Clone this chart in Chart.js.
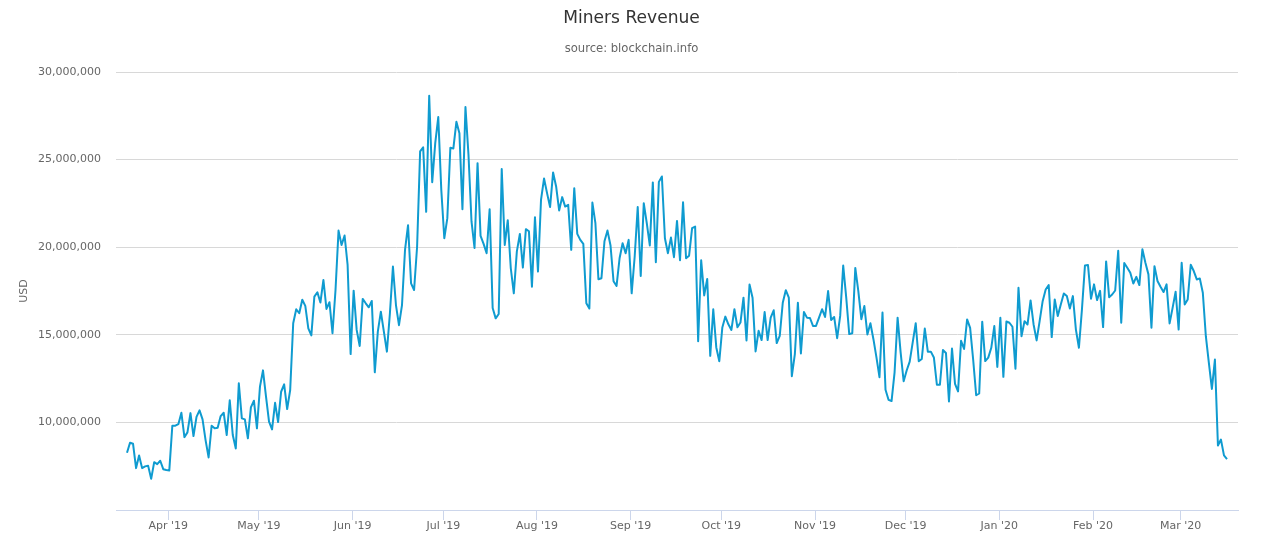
<!DOCTYPE html>
<html>
<head>
<meta charset="utf-8">
<title>Miners Revenue</title>
<script src="https://cdn.jsdelivr.net/npm/chart.js@4"></script>
<style>
    html, body { margin: 0; padding: 0; background: #fff; overflow: hidden; }
    canvas { display: block; }
</style>
</head>
<body>
<canvas id="chart" width="1263" height="550"></canvas>
<script>
// daily revenue in millions of USD, first point is 18 Mar 2019
const revenue = [
    8.27, 8.84, 8.78, 7.39, 8.11, 7.39, 7.49, 7.52, 6.78, 7.73, 7.62, 7.81, 7.33, 7.28, 7.26,
    9.81, 9.81, 9.90, 10.55, 9.16, 9.43, 10.53, 9.22, 10.32, 10.69, 10.17, 8.99, 8.00, 9.81, 9.66,
    9.70, 10.36, 10.55, 9.28, 11.26, 9.28, 8.51, 12.23, 10.23, 10.17, 9.09, 10.86, 11.24, 9.66, 12.04,
    12.97, 11.47, 10.04, 9.60, 11.12, 10.02, 11.75, 12.17, 10.76, 11.85, 15.66, 16.46, 16.23, 17.00, 16.65,
    15.37, 14.97, 17.18, 17.43, 16.84, 18.13, 16.48, 16.86, 15.09, 17.56, 20.95, 20.13, 20.67, 18.99, 13.90,
    17.52, 15.28, 14.36, 17.05, 16.80, 16.57, 16.93, 12.86, 15.18, 16.32, 15.18, 14.04, 16.23, 18.90, 16.70,
    15.55, 16.70, 19.85, 21.26, 17.94, 17.56, 20.04, 25.47, 25.70, 22.02, 28.65, 23.71, 25.94, 27.43, 23.28,
    20.51, 21.66, 25.68, 25.64, 27.16, 26.51, 22.17, 28.00, 25.28, 21.47, 19.96, 24.80, 20.65, 20.19, 19.66,
    22.17, 16.53, 15.94, 16.19, 24.46, 20.13, 21.54, 18.80, 17.37, 19.75, 20.76, 18.84, 21.03, 20.91, 17.75,
    21.71, 18.61, 22.70, 23.92, 23.09, 22.29, 24.27, 23.47, 22.10, 22.86, 22.32, 22.42, 19.85, 23.37, 20.76,
    20.42, 20.19, 16.80, 16.50, 22.55, 21.37, 18.17, 18.23, 20.34, 20.95, 20.10, 18.06, 17.79, 19.37, 20.23,
    19.66, 20.42, 17.37, 19.47, 22.29, 18.36, 22.51, 21.37, 20.10, 23.70, 19.14, 23.73, 24.04, 20.51, 19.66,
    20.55, 19.43, 21.50, 19.26, 22.57, 19.37, 19.52, 21.09, 21.18, 14.63, 19.25, 17.25, 18.19, 13.80, 16.46,
    14.28, 13.49, 15.42, 16.04, 15.60, 15.28, 16.46, 15.43, 15.70, 17.12, 14.68, 17.87, 17.12, 14.05, 15.23,
    14.70, 16.30, 14.70, 15.98, 16.40, 14.53, 14.94, 16.83, 17.55, 17.12, 12.64, 13.90, 16.83, 13.94, 16.30,
    15.98, 15.96, 15.51, 15.51, 15.98, 16.46, 16.02, 17.50, 15.85, 16.02, 14.81, 16.08, 18.95, 17.12, 15.04,
    15.09, 18.82, 17.50, 15.89, 16.64, 15.02, 15.66, 14.75, 13.71, 12.58, 16.27, 11.86, 11.29, 11.22, 12.86,
    15.98, 14.00, 12.35, 12.96, 13.47, 14.57, 15.66, 13.49, 13.62, 15.36, 14.04, 14.04, 13.71, 12.15, 12.15,
    14.13, 13.96, 11.20, 14.22, 12.20, 11.77, 14.66, 14.19, 15.88, 15.40, 13.59, 11.55, 11.65, 15.75, 13.50,
    13.70, 14.26, 15.50, 13.17, 15.97, 12.60, 15.76, 15.69, 15.46, 13.06, 17.69, 14.92, 15.78, 15.59, 16.96,
    15.59, 14.68, 15.78, 16.92, 17.59, 17.84, 14.87, 17.02, 16.07, 16.73, 17.36, 17.21, 16.50, 17.21, 15.30,
    14.26, 16.45, 18.96, 18.98, 17.06, 17.88, 16.98, 17.51, 15.44, 19.19, 17.15, 17.30, 17.53, 19.80, 15.69,
    19.10, 18.83, 18.54, 17.93, 18.31, 17.84, 19.88, 19.11, 18.45, 15.40, 18.92, 18.07, 17.74, 17.44, 17.88,
    15.65, 16.54, 17.46, 15.30, 19.11, 16.73, 17.02, 19.00, 18.64, 18.16, 18.22, 17.40, 14.92, 13.40, 11.91,
    13.59, 8.68, 9.02, 8.12, 7.91
];

// month ticks, as days counted from the first point
const monthDays = [13.67, 43.67, 74.67, 104.67, 135.67, 166.67, 196.67, 227.67, 257.67, 288.67, 319.67, 348.67];
const monthLabels = ["Apr '19", "May '19", "Jun '19", "Jul '19", "Aug '19", "Sep '19", "Oct '19", "Nov '19", "Dec '19", "Jan '20", "Feb '20", "Mar '20"];

const font = 'DejaVu Sans';
const points = revenue.map((v, i) => ({ x: i, y: v * 1000000 }));

new Chart(document.getElementById('chart'), {
    type: 'line',
    data: {
        datasets: [{
            data: points,
            borderColor: '#0f9bd0',
            borderWidth: 2,
            pointRadius: 0,
            tension: 0,
            borderJoinStyle: 'round'
        }]
    },
    options: {
        responsive: false,
        animation: false,
        plugins: {
            legend: { display: false },
            title: {
                display: true,
                text: 'Miners Revenue',
                color: '#333333',
                font: { family: font, size: 17.1, weight: 'normal' },
                padding: { top: 8.5, bottom: 10.5 }
            },
            subtitle: {
                display: true,
                text: 'source: blockchain.info',
                color: '#666666',
                font: { family: font, size: 11.6, weight: 'normal' },
                padding: { top: 3, bottom: 15.6 }
            }
        },
        scales: {
            x: {
                type: 'linear',
                min: -3.64,
                max: 367.64,
                afterBuildTicks: scale => {
                    scale.ticks = monthDays.map(d => ({ value: d }));
                },
                afterFit: scale => { scale.height = 40; },
                ticks: {
                    autoSkip: false,
                    maxRotation: 0,
                    padding: 0,
                    color: '#666666',
                    font: { family: font, size: 11 },
                    callback: (value, index) => monthLabels[index]
                },
                grid: { drawOnChartArea: false, tickLength: 10, tickColor: '#ccd6eb' },
                border: { color: '#ccd6eb' }
            },
            y: {
                min: 5000000,
                max: 30000000,
                afterFit: scale => { scale.width = 116; },
                ticks: {
                    stepSize: 5000000,
                    padding: 15,
                    color: '#666666',
                    font: { family: font, size: 11 },
                    callback: value => value === 5000000 ? '' : value.toLocaleString('en-US')
                },
                grid: { color: '#d8d8d8', drawTicks: false },
                border: { display: false },
                title: {
                    display: true,
                    text: 'USD',
                    color: '#666666',
                    font: { family: font, size: 11 },
                    padding: { top: 18, bottom: 0 }
                }
            },
            // empty axis, only keeps the right margin so the title stays centred on the page
            rightMargin: {
                position: 'right',
                grid: { display: false },
                border: { display: false },
                ticks: { display: false },
                afterFit: scale => { scale.width = 25; }
            }
        }
    }
});
</script>
</body>
</html>
